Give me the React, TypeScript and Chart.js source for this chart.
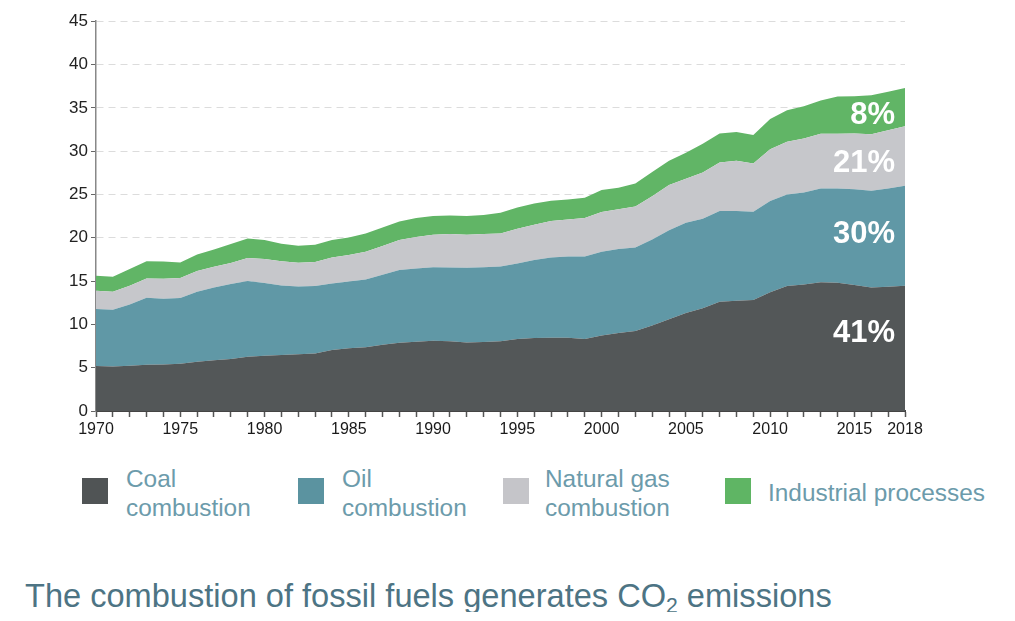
import React, { useEffect, useRef } from "react";
import { Chart, registerables } from "chart.js";

Chart.register(...registerables);

const years = [
  1970, 1971, 1972, 1973, 1974, 1975, 1976, 1977, 1978, 1979,
  1980, 1981, 1982, 1983, 1984, 1985, 1986, 1987, 1988, 1989,
  1990, 1991, 1992, 1993, 1994, 1995, 1996, 1997, 1998, 1999,
  2000, 2001, 2002, 2003, 2004, 2005, 2006, 2007, 2008, 2009,
  2010, 2011, 2012, 2013, 2014, 2015, 2016, 2017, 2018,
];

const coal = [
  5.19, 5.15, 5.23, 5.35, 5.38, 5.46, 5.69, 5.85, 6.0, 6.27,
  6.38, 6.46, 6.54, 6.65, 7.04, 7.23, 7.35, 7.65, 7.88, 8.0,
  8.12, 8.04, 7.92, 7.96, 8.04, 8.31, 8.42, 8.46, 8.46, 8.31,
  8.73, 9.0, 9.23, 9.88, 10.58, 11.3, 11.85, 12.6, 12.73, 12.8,
  13.7, 14.42, 14.6, 14.85, 14.8, 14.54, 14.27, 14.35, 14.46,
];

const oil = [
  6.58, 6.54, 7.07, 7.73, 7.58, 7.58, 8.08, 8.42, 8.65, 8.73,
  8.39, 8.04, 7.82, 7.77, 7.69, 7.73, 7.84, 8.08, 8.39, 8.46,
  8.48, 8.54, 8.62, 8.64, 8.64, 8.73, 9.0, 9.27, 9.39, 9.54,
  9.65, 9.69, 9.65, 9.92, 10.3, 10.43, 10.35, 10.5, 10.37, 10.2,
  10.53, 10.58, 10.63, 10.85, 10.9, 11.06, 11.15, 11.35, 11.54,
];

const gas = [
  2.11, 2.08, 2.16, 2.22, 2.31, 2.31, 2.38, 2.38, 2.45, 2.65,
  2.77, 2.8, 2.76, 2.77, 3.0, 3.04, 3.19, 3.31, 3.46, 3.64,
  3.75, 3.84, 3.81, 3.82, 3.82, 4.0, 4.08, 4.19, 4.27, 4.42,
  4.58, 4.61, 4.72, 5.0, 5.2, 5.07, 5.34, 5.6, 5.78, 5.58,
  6.0, 6.08, 6.23, 6.3, 6.3, 6.44, 6.54, 6.72, 6.88,
];

const industrial = [
  1.72, 1.73, 1.94, 2.0, 2.0, 1.8, 1.93, 2.0, 2.17, 2.27,
  2.19, 2.0, 1.96, 2.0, 2.0, 2.04, 2.12, 2.15, 2.15, 2.17,
  2.15, 2.16, 2.15, 2.2, 2.38, 2.46, 2.46, 2.35, 2.3, 2.35,
  2.54, 2.47, 2.67, 2.8, 2.8, 3.0, 3.31, 3.34, 3.32, 3.27,
  3.47, 3.65, 3.73, 3.85, 4.3, 4.31, 4.5, 4.43, 4.42,
];

const labeledYears = [1970, 1975, 1980, 1985, 1990, 1995, 2000, 2005, 2010, 2015, 2018];
const yTicks = [0, 5, 10, 15, 20, 25, 30, 35, 40, 45];

const seriesNames = ["Coal combustion", "Oil combustion", "Natural gas combustion", "Industrial processes"];
const shareLabels = ["41%", "30%", "21%", "8%"];

const COLORS = ["#535758", "#6098a6", "#c6c7cb", "#61b566"];
const LEGEND_COLORS = ["#505455", "#5b93a0", "#c5c5c9", "#5fb564"];

const shareLabelPlugin = {
  id: "shareLabels",
  afterDatasetsDraw(chart: any) {
    const { ctx, chartArea, scales } = chart;
    const anchors = [9.0, 20.4, 28.6, 34.15];
    ctx.save();
    ctx.font = "bold 31px 'Liberation Sans', Arial, sans-serif";
    ctx.fillStyle = "#ffffff";
    ctx.textAlign = "right";
    ctx.textBaseline = "middle";
    shareLabels.forEach((t, i) => {
      ctx.fillText(t, chartArea.right - 10, scales.y.getPixelForValue(anchors[i]));
    });
    ctx.restore();
  },
};

export default function App() {
  const canvasRef = useRef<HTMLCanvasElement | null>(null);

  useEffect(() => {
    if (!canvasRef.current) return;
    const series = [coal, oil, gas, industrial];
    const chart = new Chart(canvasRef.current, {
      type: "line",
      data: {
        datasets: series.map((vals, i) => ({
          label: seriesNames[i],
          data: years.map((yr, j) => ({ x: yr, y: vals[j] })),
          backgroundColor: COLORS[i],
          borderColor: COLORS[i],
          borderWidth: 0,
          pointRadius: 0,
          tension: 0,
          fill: i === 0 ? "origin" : "-1",
        })),
      },
      options: {
        animation: false,
        responsive: true,
        maintainAspectRatio: false,
        layout: { padding: { left: 0, right: 43, top: 13, bottom: 0 } },
        plugins: {
          legend: { display: false },
          tooltip: { enabled: false },
          title: { display: false },
        },
        scales: {
          x: {
            type: "linear",
            min: 1970,
            max: 2018,
            afterBuildTicks: (s: any) => {
              s.ticks = years.map((v) => ({ value: v }));
            },
            afterFit: (s: any) => {
              s.height = 37;
            },
            ticks: {
              autoSkip: false,
              maxRotation: 0,
              minRotation: 0,
              padding: 3,
              color: "#1a1a1a",
              font: { family: "'Liberation Sans', Arial, sans-serif", size: 16 },
              callback: (v: any) => (labeledYears.includes(Number(v)) ? String(v) : ""),
            },
            grid: {
              drawOnChartArea: false,
              drawTicks: true,
              tickLength: 6,
              tickColor: "#555",
              tickWidth: 1.5,
            },
            border: { display: true, color: "#444", width: 2 },
          },
          y: {
            stacked: true,
            min: 0,
            max: 45,
            afterBuildTicks: (s: any) => {
              s.ticks = yTicks.map((v) => ({ value: v }));
            },
            afterFit: (s: any) => {
              s.width = 88;
            },
            ticks: {
              padding: 3,
              color: "#222",
              font: { family: "'Liberation Sans', Arial, sans-serif", size: 17 },
            },
            grid: {
              drawOnChartArea: true,
              drawTicks: true,
              tickLength: 5,
              color: "#dcdcdc",
              tickColor: "#666",
              lineWidth: 1,
            },
            border: { display: true, color: "#888", width: 1.5, dash: [7, 5] },
          },
        },
      },
      plugins: [shareLabelPlugin],
    } as any);
    return () => chart.destroy();
  }, []);

  const legendItems = [
    { swatch: 74, text: 118, lines: ["Coal", "combustion"] },
    { swatch: 290, text: 334, lines: ["Oil", "combustion"] },
    { swatch: 495, text: 537, lines: ["Natural gas", "combustion"] },
    { swatch: 717, text: 760, lines: ["Industrial processes"] },
  ];

  return (
    <div style={{ position: "relative", width: 999, height: 604, fontFamily: "'Liberation Sans', Arial, sans-serif" }}>
      <div style={{ position: "absolute", left: 0, top: 0, width: 940, height: 440 }}>
        <canvas ref={canvasRef} />
      </div>
      {legendItems.map((it, i) => (
        <React.Fragment key={i}>
          <div
            style={{
              position: "absolute",
              left: it.swatch,
              top: 470,
              width: 26,
              height: 26,
              background: LEGEND_COLORS[i],
            }}
          />
          <div
            style={{
              position: "absolute",
              left: it.text,
              top: it.lines.length === 2 ? 455.5 : 469.5,
              fontSize: 24.4,
              lineHeight: "29px",
              color: "#6c9bab",
              whiteSpace: "nowrap",
            }}
          >
            {it.lines.map((l, k) => (
              <div key={k}>{l}</div>
            ))}
          </div>
        </React.Fragment>
      ))}
      <div
        style={{
          position: "absolute",
          left: 17,
          top: 572,
          fontSize: 32.6,
          lineHeight: "32px",
          color: "#4d7484",
          whiteSpace: "nowrap",
        }}
      >
        The combustion of fossil fuels generates CO
        <span style={{ fontSize: "0.65em", verticalAlign: "-0.3em" }}>2</span> emissions
      </div>
    </div>
  );
}
